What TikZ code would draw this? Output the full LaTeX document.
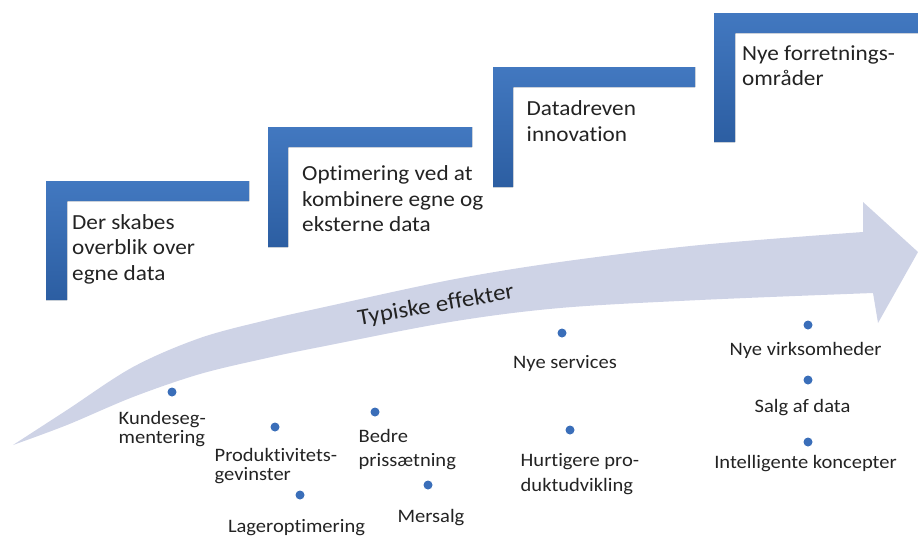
\documentclass[tikz,border=0pt]{standalone}
\usepackage{fontspec}
\setmainfont{Carlito}[FakeStretch=1.08, Ligatures=NoCommon]
\definecolor{barTop}{RGB}{66,120,192}
\definecolor{barBottom}{RGB}{44,94,162}
\definecolor{bandfill}{RGB}{206,211,230}
\definecolor{dotblue}{RGB}{58,110,185}
\definecolor{ink}{RGB}{35,35,35}
\begin{document}
\begin{tikzpicture}[x=1pt,y=-1pt,
  stepbar/.style={top color=barTop, bottom color=barBottom, draw=none},
  steptext/.style={anchor=west, inner sep=0pt, align=left, text=ink,
    font=\fontsize{21.5}{25.5}\selectfont},
  effect/.style={inner sep=0pt, text=ink, font=\fontsize{19}{19}\selectfont},
  effectml/.style={effect, anchor=west, align=left},
  dot/.style={circle, fill=dotblue, inner sep=0pt, minimum size=9pt},
  band/.style={fill=bandfill, draw=none}
]
\useasboundingbox (0,0) rectangle (918,536);

% curved arrow carrying the effects
\fill[band] plot[smooth, tension=0.55] coordinates
    {(13,445) (67,410) (133,367) (200,338) (267,320) (320,308) (450,280) (560,262) (700,245) (863,232)}
  -- (863,202) -- (918,252) -- (878,323) -- (873,293)
  -- plot[smooth, tension=0.55] coordinates
    {(873,293) (700,300) (560,308) (450,322) (320,347) (267,358) (200,374) (133,397) (67,425) (13,445)}
  -- cycle;
\node[inner sep=0pt, text=ink, rotate=10, font=\fontsize{23}{23}\selectfont]
  (band-title) at (436,306) {Typiske effekter};

% stair steps
\fill[stepbar] (46,181) -- (249,181) -- (249,201) -- (67,201) -- (67,300) -- (46,300) -- cycle;
\fill[stepbar] (268,127) -- (472,127) -- (472,147) -- (288,147) -- (288,247) -- (268,247) -- cycle;
\fill[stepbar] (493,67) -- (695,67) -- (695,87) -- (513,87) -- (513,187) -- (493,187) -- cycle;
\fill[stepbar] (714,13) -- (918,13) -- (918,33) -- (735,33) -- (735,142) -- (714,142) -- cycle;

\node[steptext] (s1) at (72,249) {Der skabes\\overblik over\\egne data};
\node[steptext] (s2) at (302,199) {Optimering ved at\\kombinere egne og\\eksterne data};
\node[steptext] (s3) at (526.5,121) {Datadreven\\innovation};
\node[steptext] (s4) at (742,65.5) {Nye forretnings-\\områder};

% effects: bullets and labels
\node[dot] (d-kunde) at (172,392) {};
\node[dot] (d-prod) at (275,427) {};
\node[dot] (d-bedre) at (375,412) {};
\node[dot] (d-lager) at (300,495) {};
\node[dot] (d-mers) at (428,485) {};
\node[dot] (d-serv) at (562,333) {};
\node[dot] (d-hurt) at (570,430) {};
\node[dot] (d-virk) at (808,325) {};
\node[dot] (d-salg) at (808,380) {};
\node[dot] (d-intel) at (808,442) {};

\node[effectml] (e-kunde) at (118.5,429) {Kundeseg-\\mentering};
\node[effectml] (e-prod) at (214.5,466) {Produktivitets-\\gevinster};
\node[effectml] (e-bedre) at (358.5,449.5) {Bedre\\[5pt]prissætning};
\node[effectml] (e-hurt) at (520.5,474.5) {Hurtigere pro-\\[6pt]duktudvikling};
\node[effect, anchor=base] (e-lager) at (296.5,532) {Lageroptimering};
\node[effect, anchor=base] (e-mers) at (431,522) {Mersalg};
\node[effect, anchor=base] (e-serv) at (565,368) {Nye services};
\node[effect, anchor=base] (e-virk) at (805.5,355) {Nye virksomheder};
\node[effect, anchor=base] (e-salg) at (802.5,412) {Salg af data};
\node[effect, anchor=base] (e-intel) at (805.5,468) {Intelligente koncepter};
\end{tikzpicture}
\end{document}
